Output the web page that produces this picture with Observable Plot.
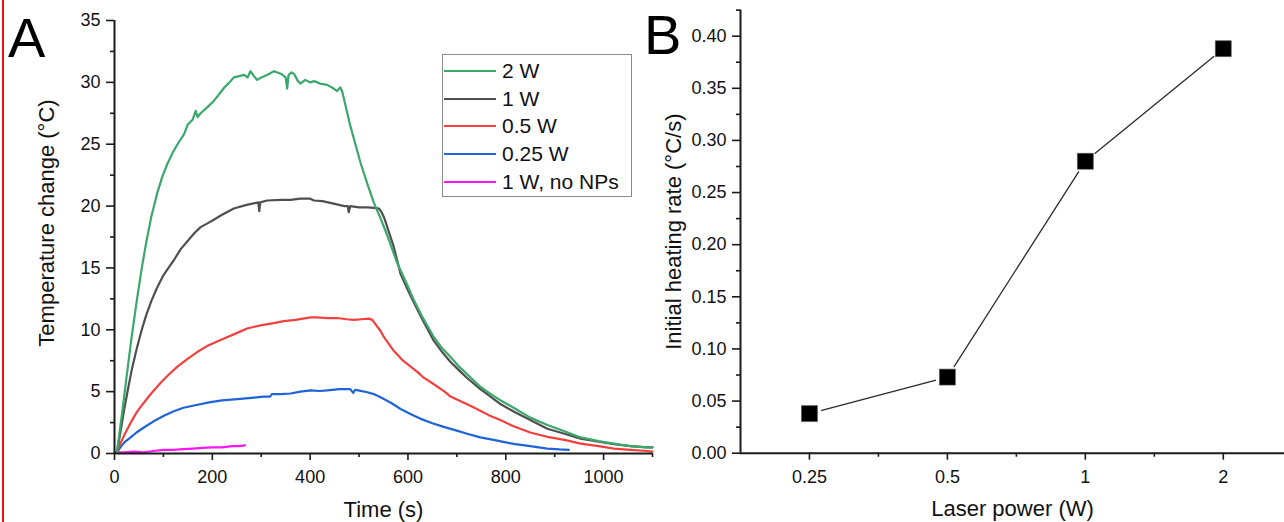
<!DOCTYPE html>
<html>
<head>
<meta charset="utf-8">
<script src="https://cdn.jsdelivr.net/npm/d3@7"></script>
<script src="https://cdn.jsdelivr.net/npm/@observablehq/plot@0.6"></script>
<style>
  body { margin: 0; background: #fff; width: 1284px; height: 522px; overflow: hidden; position: relative;
         font-family: "Liberation Sans", Arial, sans-serif; color: #111; }
  #redline { position: absolute; left: 2px; top: 0; width: 2px; height: 522px; background: #e8141c; }
  #panelA { position: absolute; left: 0; top: 0; }
  #panelB { position: absolute; left: 640px; top: 0; }
  .letter { position: absolute; font-size: 56px; line-height: 1; color: #000; }
  #legend { position: absolute; left: 442px; top: 54px; width: 190px; height: 143px; border: 1.5px solid #8a8a8a;
            box-sizing: border-box; background: #fff; }
  .row { position: absolute; left: 0; height: 28px; display: flex; align-items: center; font-size: 21px; white-space: nowrap; }
  .row svg { margin-left: 1px; margin-right: 6px; }
</style>
</head>
<body>
<div id="redline"></div>
<div id="panelA"></div>
<div id="panelB"></div>
<div class="letter" style="left:8px;top:10px;">A</div>
<div class="letter" style="left:644px;top:7px;">B</div>
<div id="legend"></div>
<script>
// ---------- Panel A data: temperature change (°C) vs time (s) ----------
const seriesNames  = ["2 W", "1 W", "0.5 W", "0.25 W", "1 W, no NPs"];
const seriesColors = ["#3aa86b", "#4f4f4f", "#f2403f", "#1f63d6", "#f916f2"];

const t2W = [5,15,25,35,45,55,65,75,87,98,108,120,132,142,150,160,166,170,176,190,203,215,225,235,244,255,265,272,278,285,292,300,312,326,340,350,353,356,362,367,375,380,390,400,408,420,435,448,455,462,466,482,503,517,530,545,558,578,600,612,630,653,670,687,705,721,748,762,789,816,850,885,920,953,990,1021,1055,1089,1100];
const v2W = [0.1,3.1,6.3,9.4,12.2,14.8,17.1,19.1,21.0,22.4,23.4,24.4,25.2,25.8,26.6,27.0,27.7,27.2,27.5,28.0,28.5,29.1,29.6,30.0,30.4,30.5,30.6,30.4,30.9,30.5,30.2,30.4,30.6,30.9,30.7,30.4,29.5,30.6,30.8,30.7,30.1,29.9,30.2,30.0,30.1,29.9,29.8,29.5,29.3,29.6,29.2,26.5,23.5,21.8,20.3,18.9,17.6,15.4,13.5,12.4,11.0,9.4,8.5,7.8,7.0,6.4,5.4,5.0,4.3,3.7,2.9,2.3,1.8,1.3,1.0,0.8,0.6,0.5,0.5];

const t1W = [5,12,20,28,36,45,55,65,75,87,100,112,121,135,150,163,176,190,203,220,244,270,294,296,298,312,340,360,380,400,408,425,448,470,477,479,482,500,517,530,541,546,551,571,585,600,612,630,653,670,687,705,721,748,762,789,816,850,885,920,953,990,1021,1055,1089,1100];
const v1W = [0.1,1.7,3.6,5.3,6.9,8.4,9.9,11.2,12.3,13.4,14.4,15.1,15.6,16.5,17.2,17.8,18.3,18.6,18.9,19.3,19.8,20.1,20.3,19.6,20.3,20.45,20.5,20.5,20.6,20.6,20.45,20.4,20.2,20.0,20.0,19.5,20.0,19.9,19.9,19.85,19.8,19.5,19.1,16.7,14.5,13.2,12.2,10.8,9.1,8.2,7.4,6.7,6.1,5.2,4.8,4.0,3.4,2.7,2.0,1.6,1.2,0.95,0.75,0.6,0.5,0.5];

const t05W = [5,12,20,28,36,45,53,60,75,94,110,128,148,169,190,210,230,251,271,298,320,346,370,401,414,435,455,475,489,505,520,527,544,551,571,590,619,630,653,675,687,720,741,765,789,816,850,870,885,920,953,990,1021,1055,1089,1100];
const v05W = [0.1,0.8,1.5,2.1,2.7,3.3,3.75,4.1,4.85,5.7,6.35,7.0,7.6,8.2,8.7,9.05,9.4,9.75,10.1,10.35,10.5,10.7,10.8,11.0,11.0,10.95,10.95,10.85,10.8,10.85,10.9,10.8,9.9,9.4,8.3,7.5,6.6,6.2,5.6,5.0,4.6,4.0,3.6,3.1,2.7,2.2,1.7,1.5,1.35,1.1,0.8,0.6,0.4,0.3,0.2,0.15];

const t025W = [5,12,20,33,45,60,80,101,120,141,165,196,220,251,280,305,318,322,340,360,380,401,420,435,460,482,488,492,498,517,530,544,565,585,605,626,650,673,700,721,748,775,800,816,850,885,910,929];
const v025W = [0.1,0.5,0.9,1.3,1.7,2.1,2.6,3.05,3.4,3.7,3.9,4.15,4.3,4.4,4.5,4.6,4.6,4.8,4.8,4.85,5.0,5.1,5.05,5.1,5.2,5.2,4.9,5.15,5.1,4.95,4.8,4.55,4.1,3.6,3.2,2.8,2.45,2.15,1.85,1.6,1.3,1.1,0.9,0.78,0.6,0.4,0.33,0.3];

const tNoNP = [0,20,40,60,80,100,120,140,160,180,200,220,240,255,267];
const vNoNP = [0.1,0.1,0.15,0.1,0.2,0.3,0.3,0.35,0.4,0.45,0.5,0.5,0.6,0.6,0.65];

const xTicksA = [0, 200, 400, 600, 800, 1000];
const xMinorA = [100, 300, 500, 700, 900, 1100];
const yTicksA = [0, 5, 10, 15, 20, 25, 30, 35];
const yMinorA = [2.5, 7.5, 12.5, 17.5, 22.5, 27.5, 32.5];

// ---------- Panel B data: initial heating rate vs laser power ----------
const laserPower  = [0.25, 0.5, 1, 2];
const heatingRate = [0.038, 0.073, 0.280, 0.388];
const xTicksB = [0.25, 0.5, 1, 2];
const xMinorB = [0.3536, 0.7071, 1.4142];
const yTicksB = [0, 0.05, 0.10, 0.15, 0.20, 0.25, 0.30, 0.35, 0.40];
const yMinorB = [0.025, 0.075, 0.125, 0.175, 0.225, 0.275, 0.325, 0.375, 0.425];

// ---------- build tables ----------
const seriesT = [t2W, t1W, t05W, t025W, tNoNP];
const seriesV = [v2W, v1W, v05W, v025W, vNoNP];
const drawOrder = [4, 3, 2, 1, 0];

const font = "Liberation Sans, Arial, sans-serif";
const axisColor = "#1a1a1a";

const lineMarks = drawOrder.map(i =>
  Plot.line(seriesT[i].map((t, k) => ({t, v: seriesV[i][k]})),
    {x: "t", y: "v", stroke: seriesColors[i], strokeWidth: 2.2, strokeLinejoin: "round"}));

const plotA = Plot.plot({
  width: 660, height: 522,
  marginLeft: 114, marginRight: 8, marginTop: 20, marginBottom: 69,
  style: {fontFamily: font, fontSize: "18px", color: "#111", background: "transparent", overflow: "visible"},
  x: {domain: [0, 1100]},
  y: {domain: [0, 35]},
  marks: [
    ...lineMarks,
    Plot.axisX(xTicksA, {tickSize: 7, tickPadding: 10, strokeWidth: 1.6, stroke: axisColor, label: null, fontSize: 18,
      tickFormat: d => String(d)}),
    Plot.axisX(xMinorA, {tickSize: 4, strokeWidth: 1.6, stroke: axisColor, tickFormat: () => "", label: null}),
    Plot.axisY(yTicksA, {tickSize: 8, tickPadding: 6, strokeWidth: 1.6, stroke: axisColor, label: null, fontSize: 18,
      tickFormat: d => String(d)}),
    Plot.axisY(yMinorA, {tickSize: 4, strokeWidth: 1.6, stroke: axisColor, tickFormat: () => "", label: null}),
    Plot.ruleX([0], {stroke: axisColor, strokeWidth: 2}),
    Plot.ruleY([0], {stroke: axisColor, strokeWidth: 2}),
    Plot.text(["Temperature change (°C)"], {frameAnchor: "left", rotate: -90, dx: -67.5, dy: -14,
      textAnchor: "middle", lineAnchor: "middle", fontSize: 22, fill: "#111"}),
    Plot.text(["Time (s)"], {frameAnchor: "bottom", dy: 56, textAnchor: "middle", lineAnchor: "middle", fontSize: 22, fill: "#111"})
  ]
});
document.getElementById("panelA").append(plotA);

const xDomainB = [0.1768, 2.72];
const pointsB = laserPower.map((p, i) => ({p, r: heatingRate[i]}));

const plotB = Plot.plot({
  width: 644, height: 522,
  marginLeft: 100, marginRight: 0, marginTop: 9.6, marginBottom: 69.3,
  style: {fontFamily: font, fontSize: "18px", color: "#111", background: "transparent", overflow: "visible"},
  x: {type: "log", domain: xDomainB},
  y: {domain: [0, 0.425]},
  marks: [
    Plot.line(pointsB, {x: "p", y: "r", stroke: "#2a2a2a", strokeWidth: 1.3}),
    Plot.dot(pointsB, {x: "p", y: "r", r: 12, fill: "#fff", stroke: "none"}),
    Plot.dot(pointsB, {x: "p", y: "r", symbol: "square", r: 9, fill: "#000", stroke: "#555", strokeWidth: 0.6}),
    Plot.axisX(xTicksB, {tickSize: 7, tickPadding: 10, strokeWidth: 1.6, stroke: axisColor, label: null, fontSize: 18,
      tickFormat: d => String(d)}),
    Plot.axisX(xMinorB, {tickSize: 4, strokeWidth: 1.6, stroke: axisColor, tickFormat: () => "", label: null}),
    Plot.axisY(yTicksB, {tickSize: 8, tickPadding: 6, strokeWidth: 1.6, stroke: axisColor, label: null, fontSize: 18,
      tickFormat: d3.format(".2f")}),
    Plot.axisY(yMinorB, {tickSize: 4, strokeWidth: 1.6, stroke: axisColor, tickFormat: () => "", label: null}),
    Plot.ruleX([xDomainB[0]], {stroke: axisColor, strokeWidth: 2}),
    Plot.ruleY([0], {stroke: axisColor, strokeWidth: 2}),
    Plot.text(["Initial heating rate (°C/s)"], {frameAnchor: "left", rotate: -90, dx: -67, dy: 0,
      textAnchor: "middle", lineAnchor: "middle", fontSize: 22, fill: "#111"}),
    Plot.text(["Laser power (W)"], {frameAnchor: "bottom", dy: 56, textAnchor: "middle", lineAnchor: "middle", fontSize: 22, fill: "#111"})
  ]
});
document.getElementById("panelB").append(plotB);

// ---------- legend ----------
const legend = document.getElementById("legend");
seriesNames.forEach((name, i) => {
  const row = document.createElement("div");
  row.className = "row";
  row.style.top = (2 + i * 27.7) + "px";
  row.innerHTML = `<svg width="52" height="4"><line x1="0" x2="52" y1="2" y2="2" stroke="${seriesColors[i]}" stroke-width="2"/></svg><span>${name}</span>`;
  legend.append(row);
});
</script>
</body>
</html>
